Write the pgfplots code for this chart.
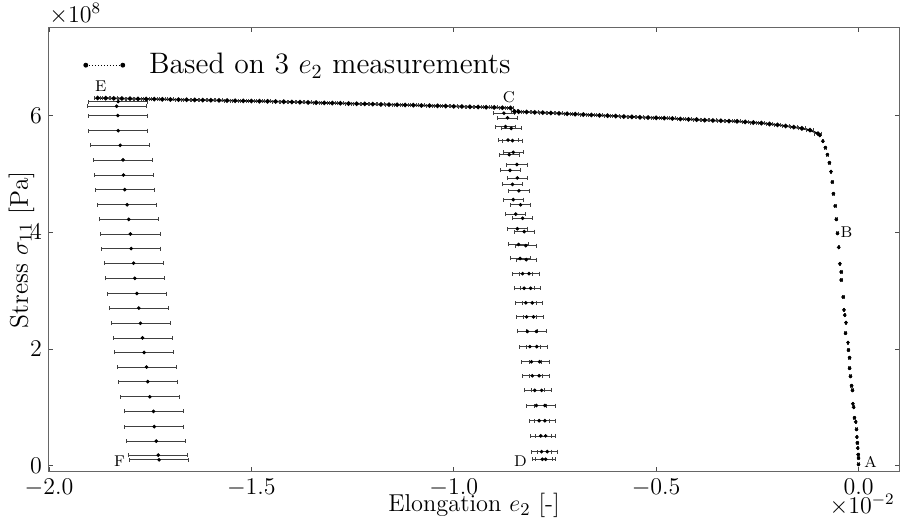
\documentclass[border=0pt]{standalone}
\usepackage{pgfplots}
\pgfplotsset{compat=1.18}
\usepackage{pgfplotstable}

\pgfplotstableread{
x y ex
0.000 0.02 0.002
0.000 0.13 0.002
-0.001 0.19 0.002
-0.002 0.30 0.002
-0.003 0.39 0.002
-0.004 0.49 0.002
-0.005 0.62 0.002
-0.007 0.75 0.002
-0.010 0.82 0.002
-0.012 1.00 0.002
-0.014 1.06 0.002
-0.015 1.29 0.002
-0.017 1.37 0.002
-0.020 1.53 0.002
-0.022 1.67 0.002
-0.022 1.85 0.002
-0.025 1.98 0.002
-0.026 2.11 0.002
-0.032 2.27 0.002
-0.031 2.45 0.002
-0.034 2.58 0.002
-0.036 2.67 0.002
-0.038 2.89 0.002
-0.043 3.18 0.002
-0.043 3.32 0.002
-0.046 3.46 0.002
-0.049 3.74 0.002
-0.052 3.98 0.002
-0.055 4.22 0.002
-0.058 4.45 0.002
-0.062 4.66 0.002
-0.065 4.86 0.002
-0.068 5.04 0.002
-0.072 5.19 0.002
-0.077 5.33 0.002
-0.082 5.45 0.002
-0.088 5.56 0.002
-0.096 5.66 0.002
}\loadAB

\pgfplotstableread{
x y ex
-0.100 5.690 0.008
-0.120 5.750 0.008
-0.140 5.780 0.008
-0.160 5.800 0.008
-0.180 5.820 0.008
-0.200 5.840 0.008
-0.220 5.855 0.008
-0.240 5.870 0.008
-0.260 5.880 0.008
-0.280 5.890 0.008
-0.300 5.900 0.008
-0.320 5.905 0.008
-0.340 5.910 0.008
-0.360 5.915 0.008
-0.380 5.920 0.008
-0.400 5.930 0.008
-0.420 5.935 0.008
-0.440 5.940 0.008
-0.460 5.950 0.008
-0.480 5.955 0.008
-0.500 5.960 0.008
-0.520 5.965 0.008
-0.540 5.970 0.008
-0.560 5.977 0.008
-0.580 5.983 0.008
-0.600 5.990 0.008
-0.620 5.997 0.008
-0.640 6.003 0.008
-0.660 6.010 0.008
-0.680 6.017 0.008
-0.700 6.023 0.008
-0.720 6.030 0.008
-0.740 6.037 0.008
-0.760 6.043 0.008
-0.780 6.050 0.008
-0.800 6.055 0.008
-0.820 6.060 0.008
-0.840 6.065 0.008
-0.850 6.070 0.008
}\plateauBC

\pgfplotstableread{
x y ex
-0.876 6.04 0.025
-0.872 5.81 0.025
-0.866 5.58 0.025
-0.863 5.33 0.025
-0.861 5.06 0.025
-0.855 4.82 0.025
-0.853 4.56 0.025
-0.847 4.31 0.025
-0.843 4.06 0.025
-0.840 3.79 0.025
-0.836 3.55 0.025
-0.830 3.29 0.025
-0.826 3.04 0.025
-0.822 2.79 0.025
-0.820 2.55 0.025
-0.818 2.30 0.025
-0.812 2.04 0.025
-0.808 1.78 0.025
-0.806 1.54 0.025
-0.800 1.29 0.025
-0.796 1.03 0.025
-0.789 0.77 0.025
-0.785 0.51 0.025
-0.783 0.24 0.025
-0.781 0.11 0.025
}\unloadCD

\pgfplotstableread{
x y ex
-0.867 5.96 0.025
-0.858 5.78 0.025
-0.855 5.57 0.025
-0.853 5.37 0.025
-0.844 5.16 0.025
-0.843 4.93 0.025
-0.839 4.71 0.025
-0.835 4.47 0.025
-0.830 4.24 0.025
-0.826 4.01 0.025
-0.822 3.77 0.025
-0.821 3.53 0.025
-0.814 3.29 0.025
-0.810 3.04 0.025
-0.806 2.79 0.025
-0.803 2.55 0.025
-0.796 2.30 0.025
-0.795 2.04 0.025
-0.788 1.78 0.025
-0.789 1.54 0.025
-0.783 1.29 0.025
-0.775 1.03 0.025
-0.775 0.77 0.025
-0.773 0.51 0.025
-0.769 0.24 0.025
-0.773 0.11 0.025
}\reloadDC

\pgfplotstableread{
x y ex
-0.860 6.130 0.008
-0.880 6.134 0.008
-0.900 6.138 0.008
-0.920 6.142 0.008
-0.940 6.146 0.008
-0.960 6.150 0.008
-0.980 6.154 0.008
-1.000 6.158 0.008
-1.020 6.162 0.008
-1.040 6.166 0.008
-1.060 6.169 0.008
-1.080 6.173 0.008
-1.100 6.177 0.008
-1.120 6.180 0.008
-1.140 6.184 0.008
-1.160 6.188 0.008
-1.180 6.191 0.008
-1.200 6.195 0.008
-1.220 6.199 0.008
-1.240 6.202 0.008
-1.260 6.206 0.008
-1.280 6.210 0.008
-1.300 6.213 0.008
-1.320 6.217 0.008
-1.340 6.221 0.008
-1.360 6.224 0.008
-1.380 6.228 0.008
-1.400 6.232 0.008
-1.420 6.236 0.008
-1.440 6.240 0.008
-1.460 6.243 0.008
-1.480 6.245 0.008
-1.500 6.248 0.008
-1.520 6.251 0.008
-1.540 6.253 0.008
-1.560 6.256 0.008
-1.580 6.259 0.008
-1.600 6.262 0.008
-1.620 6.264 0.008
-1.640 6.267 0.008
-1.660 6.270 0.008
-1.680 6.272 0.008
-1.700 6.275 0.008
-1.720 6.278 0.008
-1.740 6.281 0.008
-1.760 6.283 0.008
-1.780 6.286 0.008
-1.800 6.289 0.008
-1.820 6.291 0.008
-1.840 6.294 0.008
-1.860 6.297 0.008
-1.880 6.300 0.008
}\plateauCE

\pgfplotstableread{
x y ex
-1.829 6.24 0.073
-1.833 6.16 0.073
-1.830 6.00 0.073
-1.829 5.74 0.073
-1.824 5.49 0.073
-1.817 5.24 0.073
-1.816 4.98 0.073
-1.813 4.73 0.073
-1.807 4.47 0.073
-1.803 4.22 0.073
-1.799 3.97 0.073
-1.797 3.72 0.073
-1.791 3.47 0.073
-1.788 3.21 0.073
-1.783 2.95 0.073
-1.778 2.70 0.073
-1.774 2.44 0.073
-1.769 2.19 0.073
-1.765 1.94 0.073
-1.759 1.69 0.073
-1.756 1.44 0.073
-1.751 1.18 0.073
-1.742 0.93 0.073
-1.740 0.67 0.073
-1.735 0.42 0.073
-1.730 0.18 0.073
-1.728 0.10 0.073
}\unloadEF

\begin{document}
\begin{tikzpicture}
\begin{axis}[
  scale only axis,
  width=425pt, height=221.75pt,
  xmin=-2, xmax=0.1, ymin=-0.1, ymax=7.5,
  xtick={-2,-1.5,-1,-0.5,0},
  ytick={0,2,4,6},
  xticklabel style={/pgf/number format/.cd, fixed, fixed zerofill, precision=1},
  tick label style={font=\fontsize{11.6}{14}\selectfont},
  xlabel={Elongation $e_2$ [-]},
  ylabel={Stress $\sigma_{11}$ [Pa]},
  every axis x label/.style={at={(rel axis cs:0.5,0)}, anchor=base, yshift=-20.25pt,
    font=\fontsize{12.2}{14}\selectfont},
  every axis y label/.style={at={(rel axis cs:0,0.5)}, rotate=90, anchor=base, yshift=10.5pt,
    font=\fontsize{12.8}{15}\selectfont},
  major tick length=2pt,
  tick style={black!70, line width=0.4pt},
  axis line style={black!60, line width=0.5pt},
  tick align=inside,
  clip=false,
  legend style={at={(rel axis cs:0,1)}, anchor=north west, xshift=17pt, yshift=-10.5pt,
    draw=none, fill=none, inner sep=0pt,
    font=\fontsize{14.8}{17}\selectfont, cells={anchor=west},
    /tikz/every odd column/.append style={column sep=10pt}},
  legend image code/.code={
    \draw[black, densely dotted, line width=0.5pt] (0pt,0pt) -- (18.5pt,0pt);
    \fill[black] (0pt,0pt) circle (1pt);
    \fill[black] (18.5pt,0pt) circle (1pt);
  },
  ser/.style={black, mark=*, mark size=0.7pt, mark options={solid, black},
    error bars/.cd, x dir=both, x explicit,
    error bar style={black!75, line width=0.35pt},
    error mark options={rotate=90, mark size=1pt, black!75, line width=0.35pt}},
]
\coordinate (bl) at (rel axis cs:0,0);
\coordinate (tr) at (rel axis cs:1,1);

\addplot[only marks, ser] table[x=x, y=y, x error=ex] {\loadAB};
\addlegendentry{Based on 3 $e_2$ measurements}
\addplot[line width=0.8pt, forget plot, ser] table[x=x, y=y, x error=ex] {\plateauBC};
\addplot[line width=0.8pt, forget plot, ser] table[x=x, y=y, x error=ex] {\plateauCE};
\addplot[only marks, forget plot, ser] table[x=x, y=y, x error=ex] {\unloadCD};
\addplot[only marks, forget plot, ser] table[x=x, y=y, x error=ex] {\reloadDC};
\addplot[only marks, forget plot, ser] table[x=x, y=y, x error=ex] {\unloadEF};

\node[font=\fontsize{7.8}{9}\selectfont] at (axis cs:0.030,0.07) {A};
\node[font=\fontsize{7.8}{9}\selectfont] at (axis cs:-0.030,4.0) {B};
\node[font=\fontsize{7.8}{9}\selectfont] at (axis cs:-0.864,6.32) {C};
\node[font=\fontsize{7.8}{9}\selectfont] at (axis cs:-0.835,0.07) {D};
\node[font=\fontsize{7.8}{9}\selectfont] at (axis cs:-1.872,6.50) {E};
\node[font=\fontsize{7.8}{9}\selectfont] at (axis cs:-1.826,0.07) {F};

\node[anchor=south west, inner sep=0pt, yshift=1.5pt, font=\fontsize{11.6}{14}\selectfont] at (rel axis cs:0,1) {$\times10^{8}$};
\node[anchor=base east, inner sep=0pt, xshift=-2pt, yshift=-21pt, font=\fontsize{11.6}{14}\selectfont] at (rel axis cs:1,0) {$\times10^{-2}$};
\end{axis}
\pgfresetboundingbox
\path[use as bounding box] ([xshift=-24.5pt,yshift=-24.25pt]bl) rectangle ([xshift=0.5pt,yshift=14pt]tr);
\end{tikzpicture}
\end{document}
